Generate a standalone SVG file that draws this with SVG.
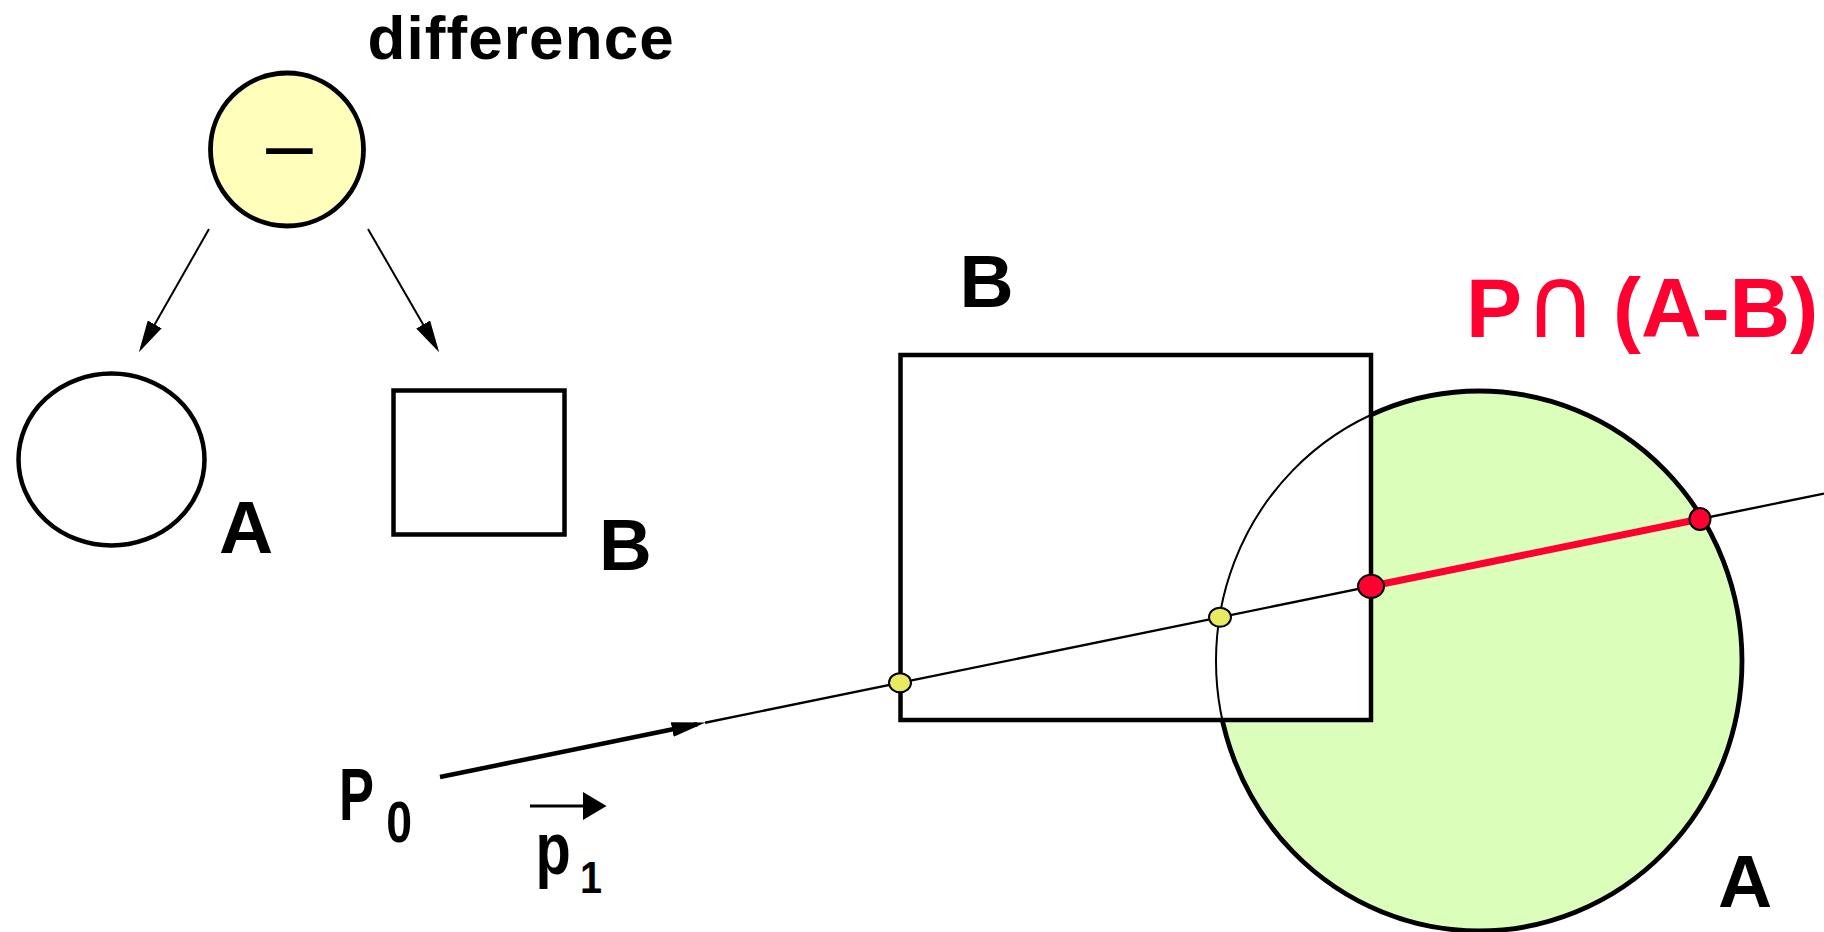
<svg xmlns="http://www.w3.org/2000/svg" width="1824" height="932" viewBox="0 0 1824 932">
<style>
  .lbl { font-family: "Liberation Sans", Arial, Helvetica, sans-serif; font-weight: bold; fill: #000; }
  .red { fill: #FF0030; }
  .outline { fill: none; stroke: #000; stroke-width: 4.5; }
  .thin { fill: none; stroke: #000; stroke-width: 2; }
  .conn { fill: none; stroke: #000; stroke-width: 2; }
  .ydot { fill: #E8EA62; stroke: #000; stroke-width: 2; }
  .rdot { fill: #FF0030; stroke: #000; stroke-width: 2; }
</style>
<defs>
  <marker id="head" markerUnits="userSpaceOnUse" markerWidth="32" markerHeight="16" viewBox="0 0 30 15" refX="26" refY="7.5" orient="auto">
    <path d="M0,0 L30,7.5 L0,15 Z" fill="#000"/>
  </marker>
  <marker id="headRay" markerUnits="userSpaceOnUse" markerWidth="34" markerHeight="16" viewBox="0 0 32 14" refX="24" refY="7" orient="auto">
    <path d="M0,0 L32,7 L0,14 Z" fill="#000"/>
  </marker>
  <marker id="headVec" markerUnits="userSpaceOnUse" markerWidth="24" markerHeight="28" viewBox="0 0 22 26" refX="2" refY="13" orient="auto">
    <path d="M0,0 L22,13 L0,26 Z" fill="#000"/>
  </marker>
</defs>
<rect x="0" y="0" width="1824" height="932" fill="#fff"/>

<!-- CSG tree -->
<g id="node-difference">
  <circle cx="287" cy="149.5" r="76.5" fill="#FFFFBB" stroke="#000" stroke-width="4.8"/>
  <text class="lbl" font-size="84" text-anchor="middle" transform="translate(289.5,152) scale(1.12,0.68)" x="0" y="21.4">–</text>
  <text class="lbl" x="367.5" y="59" font-size="62" letter-spacing="1.1">difference</text>
</g>
<g id="node-A-small">
  <ellipse class="outline" cx="111.5" cy="459.5" rx="93" ry="86"/>
  <text class="lbl" x="219" y="553" font-size="75">A</text>
</g>
<g id="node-B-small">
  <rect class="outline" x="393.5" y="390.5" width="171" height="144"/>
  <text class="lbl" x="599" y="570" font-size="73">B</text>
</g>
<g id="connectors">
  <line class="conn" x1="209" y1="229" x2="141" y2="348.5" marker-end="url(#head)"/>
  <line class="conn" x1="368" y1="229" x2="437" y2="348.5" marker-end="url(#head)"/>
</g>

<!-- Scene: ray against A - B -->
<g id="shape-A">
  <ellipse cx="1479" cy="661" rx="263" ry="270" fill="#DBFFBB" stroke="#000" stroke-width="4.8"/>
</g>
<g id="shape-B">
  <rect x="900.5" y="355" width="470.5" height="365" fill="#fff"/>
  <ellipse class="thin" cx="1479" cy="661" rx="263" ry="270"/>
  <rect class="outline" x="900.5" y="355" width="470.5" height="365"/>
  <text class="lbl" x="959.5" y="307" font-size="75">B</text>
</g>
<text class="lbl" x="1718" y="907" font-size="75">A</text>

<g id="ray">
  <line x1="440" y1="777" x2="697.2" y2="724.3" stroke="#000" stroke-width="4.5" marker-end="url(#headRay)"/>
  <line x1="705" y1="722.7" x2="1824" y2="493.6" stroke="#000" stroke-width="2.4"/>
  <line x1="1371" y1="586.3" x2="1700" y2="519" stroke="#FF0030" stroke-width="7"/>
  <ellipse class="ydot" cx="900" cy="682.8" rx="11" ry="9.5"/>
  <ellipse class="ydot" cx="1220" cy="617.3" rx="11" ry="9.5"/>
  <ellipse class="rdot" cx="1371" cy="586.3" rx="13" ry="11.5"/>
  <ellipse class="rdot" cx="1700" cy="519" rx="10.5" ry="11"/>
</g>

<g id="label-P0">
  <text class="lbl" font-size="75" transform="translate(343,820) scale(0.7,1)" x="-5.7" y="0">P</text>
  <text class="lbl" font-size="58" transform="translate(388,842) scale(0.8,1)" x="-2.3" y="0">0</text>
</g>
<g id="label-p1">
  <line x1="530" y1="806" x2="585" y2="806" stroke="#000" stroke-width="3" marker-end="url(#headVec)"/>
  <text class="lbl" font-size="74" transform="translate(539,874) scale(0.78,1)" x="-4.6" y="0">p</text>
  <text class="lbl" font-size="44" transform="translate(580,893) scale(0.9,1)" x="0" y="0">1</text>
</g>

<g id="label-result">
  <text class="lbl red" font-size="84" y="337"><tspan x="1466">P</tspan><tspan x="1524" font-family="'DejaVu Sans', sans-serif" font-weight="normal" font-size="100">∩</tspan><tspan x="1613">(A-B)</tspan></text>
</g>
</svg>
